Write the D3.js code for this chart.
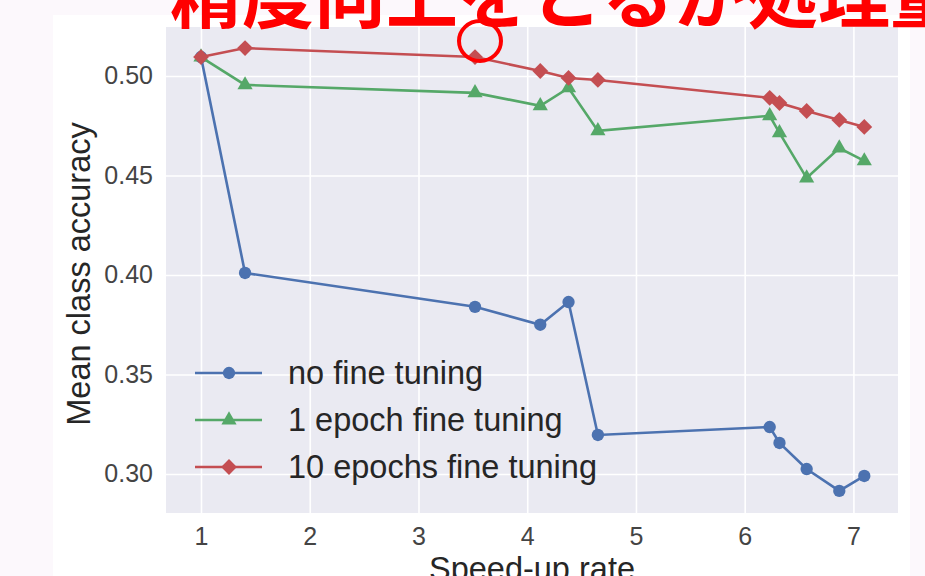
<!DOCTYPE html>
<html>
<head>
<meta charset="utf-8">
<script src="https://cdn.jsdelivr.net/npm/d3@7"></script>
<style>
  body { margin: 0; background: #fcf8fc; }
  svg { display: block; }
</style>
</head>
<body>
<div id="chart"></div>
<script>
"use strict"

// data
var speedUp = [1, 1.405, 3.52, 4.12, 4.38, 4.65, 6.23, 6.32, 6.57, 6.87, 7.10];
var noFineTuning = [0.5095, 0.401, 0.384, 0.375, 0.3864, 0.3196, 0.3236, 0.3156, 0.3025, 0.2915, 0.299];
var oneEpoch = [0.5095, 0.4955, 0.4915, 0.485, 0.494, 0.4724, 0.480, 0.4714, 0.4487, 0.4638, 0.4573];
var tenEpochs = [0.5095, 0.514, 0.5095, 0.5025, 0.499, 0.498, 0.489, 0.4864, 0.4824, 0.4779, 0.4744];
var seriesNames = ["no fine tuning", "1 epoch fine tuning", "10 epochs fine tuning"];
var xTicks = [1, 2, 3, 4, 5, 6, 7];
var yTicks = [0.30, 0.35, 0.40, 0.45, 0.50];
var titleText = "精度向上をとるか処理量をとるか";

var width = 925, height = 576;
var plot = {left: 166, right: 898, top: 27, bottom: 513};
var colors = ["#4C72B0", "#55A868", "#C44E52"];
var font = "'Liberation Sans', Arial, sans-serif";

// matplotlib-like markers: circle, triangle, square diamond
var markers = [
  {type: d3.symbolCircle, size: 120, rot: 0},
  {type: d3.symbolTriangle, size: 100, rot: 0},
  {type: d3.symbolSquare, size: 125, rot: 45}
];

var svg = d3.select("#chart").append("svg")
  .attr("width", width)
  .attr("height", height);

// white slide panel
svg.append("rect")
  .attr("x", 53).attr("y", 15)
  .attr("width", 857).attr("height", height - 15)
  .attr("fill", "#ffffff");

var x = d3.scaleLinear().domain([0.678, 7.41]).range([plot.left, plot.right]);
var y = d3.scaleLinear().domain([0.2804, 0.5246]).range([plot.bottom, plot.top]);

svg.append("rect")
  .attr("x", plot.left).attr("y", plot.top)
  .attr("width", plot.right - plot.left).attr("height", plot.bottom - plot.top)
  .attr("fill", "#eaeaf2");

function styleAxis(g){
  g.select(".domain").remove();
  g.selectAll("line").attr("stroke", "#ffffff").attr("stroke-width", 1.6);
  g.selectAll("text").attr("fill", "#444444").style("font-family", font).style("font-size", "25px");
}

svg.append("g")
  .attr("transform", "translate(0," + plot.bottom + ")")
  .call(d3.axisBottom(x).tickValues(xTicks).tickSize(-(plot.bottom - plot.top)).tickPadding(14).tickFormat(d3.format("d")))
  .call(styleAxis);

svg.append("g")
  .attr("transform", "translate(" + plot.left + ",0)")
  .call(d3.axisLeft(y).tickValues(yTicks).tickSize(-(plot.right - plot.left)).tickPadding(13).tickFormat(d3.format(".2f")))
  .call(styleAxis);

var line = d3.line()
  .x(function(d){ return x(d[0]); })
  .y(function(d){ return y(d[1]); });

function markerPath(i){
  return d3.symbol().type(markers[i].type).size(markers[i].size)();
}

[noFineTuning, oneEpoch, tenEpochs].forEach(function(vals, i){
  var pts = speedUp.map(function(s, j){ return [s, vals[j]]; });
  svg.append("path")
    .datum(pts)
    .attr("d", line)
    .attr("fill", "none")
    .attr("stroke", colors[i])
    .attr("stroke-width", 2.6);
  svg.append("g").selectAll("path")
    .data(pts)
    .enter().append("path")
    .attr("d", markerPath(i))
    .attr("transform", function(d){ return "translate(" + x(d[0]) + "," + y(d[1]) + ") rotate(" + markers[i].rot + ")"; })
    .attr("fill", colors[i]);
});

// legend
var legend = svg.append("g").attr("transform", "translate(195,373)");
seriesNames.forEach(function(name, i){
  var row = legend.append("g").attr("transform", "translate(0," + (i * 47) + ")");
  row.append("line")
    .attr("x1", 0).attr("x2", 67).attr("y1", 0).attr("y2", 0)
    .attr("stroke", colors[i]).attr("stroke-width", 2.6);
  row.append("path")
    .attr("d", markerPath(i))
    .attr("transform", "translate(34,0) rotate(" + markers[i].rot + ")")
    .attr("fill", colors[i]);
  row.append("text")
    .attr("x", 93).attr("y", 11)
    .text(name)
    .attr("fill", "#262626")
    .style("font-family", font)
    .style("font-size", "32.5px");
});

// axis titles
svg.append("text")
  .attr("transform", "translate(90,274) rotate(-90)")
  .attr("text-anchor", "middle")
  .text("Mean class accuracy")
  .attr("fill", "#262626")
  .style("font-family", font)
  .style("font-size", "32.5px");

svg.append("text")
  .attr("x", (plot.left + plot.right) / 2)
  .attr("y", 580)
  .attr("text-anchor", "middle")
  .text("Speed-up rate")
  .attr("fill", "#262626")
  .style("font-family", font)
  .style("font-size", "32.5px");

// red annotation (cut off at the top of the screenshot)
svg.append("text")
  .attr("x", 170).attr("y", 22)
  .text(titleText)
  .attr("fill", "#ff0000")
  .style("font-family", "'Noto Sans CJK JP', sans-serif")
  .style("font-weight", "bold")
  .style("font-size", "72px");

svg.append("ellipse")
  .attr("cx", 480).attr("cy", 41)
  .attr("rx", 21).attr("ry", 20)
  .attr("fill", "none")
  .attr("stroke", "#ff0000")
  .attr("stroke-width", 4);
</script>
</body>
</html>
